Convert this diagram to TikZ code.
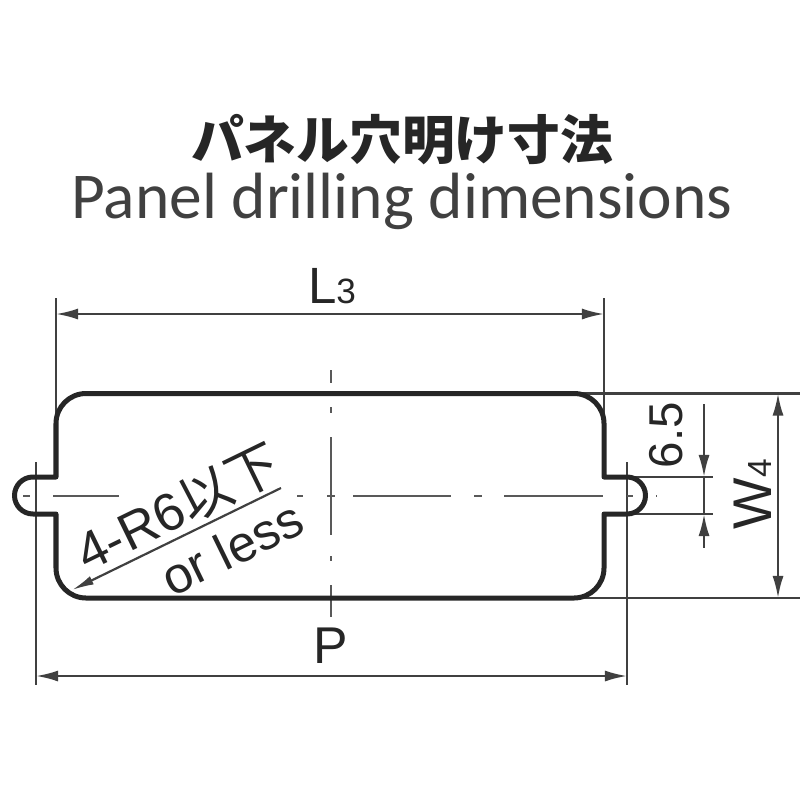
\documentclass[tikz,border=0pt]{standalone}
\usepackage{fontspec}
\setmainfont{Liberation Sans}
\newfontfamily\jpfont{Noto Sans CJK JP}
\newfontfamily\titlefont{Carlito}
\usetikzlibrary{arrows.meta}
\tikzset{
  dimline/.style={draw=black!75,line width=0.022cm},
  dimarrow/.style={dimline,{Latex[length=0.22cm,width=0.11cm]}-{Latex[length=0.22cm,width=0.11cm]}},
  outline/.style={draw=black!85,line width=0.05cm,line join=round},
  centerline/.style={draw=black!65,line width=0.02cm},
  dimlabel/.style={inner sep=0pt,text=black!85}
}
\begin{document}
\begin{tikzpicture}[x=0.01cm,y=-0.01cm]
\useasboundingbox (0,0) rectangle (800,800);
% heading
\node[dimlabel] (headjp) at (402,140) {\fontsize{15pt}{15pt}\jpfont\bfseries パネル穴明け寸法};
\node[dimlabel,text=black!75] (headen) at (402,201) {\fontsize{18.6pt}{19pt}\titlefont Panel drilling dimensions};
% extension lines
\coordinate (lt) at (56,298); \coordinate (lb) at (56,420);
\coordinate (rt) at (604,298); \coordinate (rb) at (604,420);
\coordinate (pl) at (36,462); \coordinate (plb) at (36,685);
\coordinate (pr) at (627,462); \coordinate (prb) at (627,685);
\draw[dimline] (lt) -- (lb);
\draw[dimline] (rt) -- (rb);
\draw[dimline] (pl) -- (plb);
\draw[dimline] (pr) -- (prb);
\draw[dimline] (575,393.5) -- (800,393.5);
\draw[dimline] (575,598) -- (800,598);
\draw[dimline] (627,477) -- (713,477);
\draw[dimline] (627,514) -- (713,514);
% center lines
\foreach \a/\b in {23/30,53/119,297/303,327/335,353/451,474/482,504/603,627/633,656/657}
  {\draw[centerline] (\a,496) -- (\b,496);}
\foreach \a/\b in {370/383,407/413,437/535,556/561,585/617}
  {\draw[centerline] (331,\a) -- (331,\b);}
% panel outline
\draw[outline] (86,393.5) -- (574,393.5) arc (-90:0:30) -- (604,477) -- (627,477)
  arc (-90:90:18.5) -- (604,514) -- (604,568) arc (0:90:30) -- (86,598)
  arc (90:180:30) -- (56,514) -- (33,514) arc (90:270:18.5) -- (56,477) -- (56,423.5) arc (180:270:30) -- cycle;
% dimensions
\coordinate (la) at (56,314); \coordinate (lc) at (604,314);
\coordinate (pa) at (36,676); \coordinate (pc) at (627,676);
\coordinate (wa) at (778,393.5); \coordinate (wc) at (778,598);
\draw[dimarrow] (la) -- (lc);
\draw[dimarrow] (pa) -- (pc);
\draw[dimarrow] (wa) -- (wc);
\coordinate (sa) at (704,404); \coordinate (sb) at (704,477);
\coordinate (sc) at (704,514); \coordinate (sd) at (704,548);
\draw[dimline,-{Latex[length=0.22cm,width=0.11cm]}] (sa) -- (sb);
\draw[dimline,{Latex[length=0.22cm,width=0.11cm]}-] (sc) -- (sd);
\draw[dimline] (sb) -- (sc);
\coordinate (rs) at (281,488); \coordinate (re) at (72,590);
\draw[dimline,-{Latex[length=0.22cm,width=0.09cm]}] (rs) -- (re);
% labels
\node[dimlabel] (lthree) at (332,286) {\fontsize{14.5pt}{15pt}\selectfont L{\fontsize{10pt}{10pt}\selectfont 3}};
\node[dimlabel] (pdim) at (331,646) {\fontsize{14.7pt}{15pt}\selectfont P};
\node[dimlabel,rotate=90] (six) at (666,435) {\fontsize{13.5pt}{14pt}\selectfont 6.5};
\node[dimlabel,rotate=90] (wfour) at (753,494) {\fontsize{15.5pt}{16pt}\selectfont W{\fontsize{9.5pt}{10pt}\selectfont 4}};
\node[dimlabel,rotate=26] (rad) at (178,508) {\fontsize{15pt}{15pt}\selectfont 4-R6{\jpfont 以下}};
\node[dimlabel,rotate=26] (orless) at (232,548) {\fontsize{14.5pt}{15pt}\selectfont or less};
\end{tikzpicture}
\end{document}
